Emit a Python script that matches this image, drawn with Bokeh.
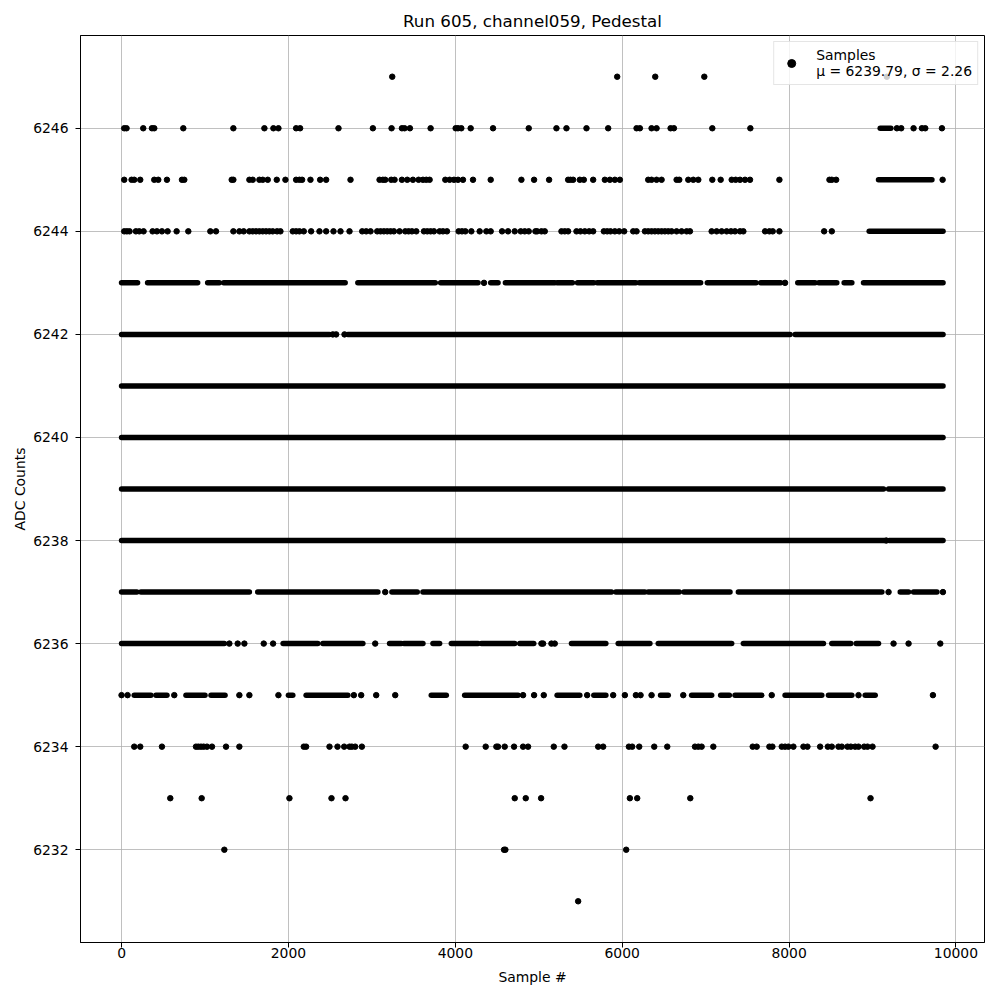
from bokeh.plotting import figure
from bokeh.models import Range1d, FixedTicker, Legend, LegendItem, ColumnDataSource, Spacer
from bokeh.layouts import column, row
from bokeh.embed import file_html
from bokeh.resources import INLINE

# ---- data (sample index per ADC level) ----
# isolated samples per ADC level
pts_6247 = [3244, 5940, 6396, 6984, 9172]
pts_6246 = [32, 60, 260, 364, 392, 740, 1340, 1712, 1820, 1880, 2092, 2140, 2600, 3012, 3236,
            3360, 3392, 3456, 3704, 4004, 4032, 4072, 4184, 4452, 4880, 5212, 5332, 5572, 5832,
            6172, 6212, 6352, 6412, 6580, 6620, 7080, 7536, 9292, 9344, 9492, 9592, 9632, 9832]
pts_6245 = [32, 120, 152, 224, 392, 440, 544, 724, 752, 1320, 1340, 1532, 1572, 1652, 1692, 1752,
            1860, 1964, 2092, 2132, 2164, 2264, 2380, 2452, 2744, 3092, 3132, 3160, 3232, 3272,
            3360, 3424, 3492, 3560, 3612, 3652, 3692, 3880, 3932, 3984, 4032, 4092, 4212, 4424,
            4792, 4944, 5124, 5352, 5380, 5412, 5492, 5540, 5652, 5792, 5852, 5912, 5972, 6312,
            6352, 6412, 6472, 6652, 6684, 6792, 6852, 6912, 7080, 7180, 7312, 7360, 7412, 7472,
            7532, 7884, 8484, 8512, 8564, 9840]
pts_6244 = [32, 64, 96, 172, 212, 264, 372, 424, 484, 552, 660, 800, 1064, 1132, 1340, 1412, 1464,
            1532, 1572, 1612, 1652, 1692, 1732, 1772, 1812, 1864, 1904, 2052, 2092, 2132, 2184,
            2272, 2372, 2452, 2540, 2624, 2732, 2884, 2932, 2984, 3064, 3104, 3144, 3184, 3224,
            3264, 3332, 3400, 3440, 3480, 3532, 3624, 3664, 3704, 3744, 3812, 3852, 3900, 4040,
            4080, 4120, 4192, 4292, 4372, 4424, 4560, 4632, 4712, 4784, 4832, 4880, 4960, 4980,
            5032, 5072, 5272, 5312, 5352, 5452, 5500, 5552, 5604, 5652, 5780, 5820, 5860, 5912,
            5964, 6024, 6132, 6172, 6272, 6312, 6352, 6392, 6432, 6472, 6512, 6552, 6592, 6652,
            6712, 6772, 6812, 7072, 7132, 7192, 7252, 7304, 7352, 7412, 7452, 7712, 7764, 7804,
            7884, 8420, 8512]
pts_6243 = [4344, 7952]
pts_6242 = [2532, 2572, 2672]
pts_6238 = [9164]
pts_6237 = [3160, 9192, 9844]
pts_6236 = [1292, 1392, 1472, 1704, 1816, 3040, 5032, 5052, 5152, 5192, 9252, 9432, 9812]
pts_6235 = [0, 72, 632, 1412, 1532, 1880, 2784, 2872, 3052, 3280, 4812, 4944, 5060, 5580, 5892,
            6032, 6164, 6220, 6352, 6732, 7792, 8832, 9724]
pts_6234 = [152, 224, 484, 892, 920, 952, 984, 1024, 1084, 1252, 1412, 2184, 2212, 2492, 2588,
            2668, 2732, 2760, 2800, 2880, 4124, 4364, 4492, 4512, 4592, 4704, 4812, 4872, 5180,
            5308, 5712, 5772, 6080, 6120, 6204, 6384, 6540, 6872, 6912, 6952, 7092, 7564, 7612,
            7764, 7800, 7912, 7952, 7992, 8052, 8172, 8220, 8372, 8464, 8512, 8592, 8632, 8700,
            8740, 8792, 8832, 8900, 8940, 9000, 9756]
pts_6233 = [584, 960, 2012, 2516, 2684, 4712, 4844, 5028, 6092, 6180, 6816, 8976]
pts_6232 = [1232, 4584, 4600, 6048]
pts_6231 = [5472]

# runs of consecutive-looking samples (start, end) per ADC level
runs_6246 = [(9092, 9220)]
runs_6245 = [(9072, 9712)]
runs_6244 = [(8960, 9845)]
runs_6243 = [(0, 192), (312, 912), (1032, 1172), (1224, 2680), (2832, 3760), (3824, 4272),
             (4424, 4512), (4600, 5192), (5220, 5404), (5464, 5660), (5700, 6164), (6204, 6940),
             (7020, 7604), (7660, 7900), (8104, 8312), (8356, 8572), (8660, 8752), (8892, 9845)]
runs_6242 = [(0, 2492), (2712, 8012), (8072, 9845)]
runs_6241 = [(0, 9845)]
runs_6240 = [(0, 9845)]
runs_6239 = [(0, 9132), (9192, 9845)]
runs_6238 = [(0, 9140), (9200, 9845)]
runs_6237 = [(0, 184), (232, 1532), (1632, 3072), (3240, 3544), (3612, 5872), (5924, 6272),
             (6312, 6684), (6740, 7292), (7392, 9112), (9332, 9432), (9492, 9772)]
runs_6236 = [(0, 1232), (1936, 2352), (2412, 2892), (3212, 3352), (3384, 3612), (3732, 3812),
             (3952, 4272), (4312, 4712), (4772, 4940), (5392, 5804), (5952, 6332), (6432, 7312),
             (7452, 8412), (8512, 8740), (8804, 9072)]
runs_6235 = [(152, 352), (412, 544), (772, 1000), (1072, 1240), (2000, 2052), (2212, 2712),
             (3712, 3892), (4112, 4752), (5220, 5492), (5660, 5804), (6460, 6552), (6832, 7072),
             (7180, 7284), (7352, 7672), (7952, 8392), (8472, 8752), (8912, 9032)]

x_ticks = [0, 2000, 4000, 6000, 8000, 10000]
y_ticks = [6232, 6234, 6236, 6238, 6240, 6242, 6244, 6246]
title_text = "Run 605, channel059, Pedestal"
legend_text = "Samples\nμ = 6239.79, σ = 2.26"

points = {6247: pts_6247, 6246: pts_6246, 6245: pts_6245, 6244: pts_6244, 6243: pts_6243,
          6242: pts_6242, 6238: pts_6238, 6237: pts_6237, 6236: pts_6236, 6235: pts_6235,
          6234: pts_6234, 6233: pts_6233, 6232: pts_6232, 6231: pts_6231}
runs = {6246: runs_6246, 6245: runs_6245, 6244: runs_6244, 6243: runs_6243, 6242: runs_6242,
        6241: runs_6241, 6240: runs_6240, 6239: runs_6239, 6238: runs_6238, 6237: runs_6237,
        6236: runs_6236, 6235: runs_6235}

px, py = [], []
for lvl, xs in points.items():
    px += xs
    py += [lvl] * len(xs)
sx0, sx1, sy = [], [], []
for lvl, rs in runs.items():
    for a, b in rs:
        sx0.append(a)
        sx1.append(b)
        sy.append(lvl)

FONT = "DejaVu Sans"
p = figure(frame_width=904, frame_height=907, output_backend="svg", toolbar_location=None,
           x_range=Range1d(-492, 10342), y_range=Range1d(6230.2, 6247.8),
           min_border_left=0, min_border_right=7, min_border_top=0, min_border_bottom=0)
p.title.text = title_text
p.title.align = "center"
p.title.text_font = FONT
p.title.text_font_size = "16.7px"
p.title.text_font_style = "normal"
p.title.text_color = "black"
p.title.standoff = 9

p.segment(x0="x0", y0="y", x1="x1", y1="y",
          source=ColumnDataSource(dict(x0=sx0, x1=sx1, y=sy)),
          line_color="black", line_width=5.5, line_cap="round")
sc = p.scatter(x="x", y="y", source=ColumnDataSource(dict(x=px, y=py)),
               marker="circle", size=5.5, fill_color="black", line_color="black")

for ax in (p.xaxis[0], p.yaxis[0]):
    ax.axis_line_color = "black"
    ax.major_tick_line_color = "black"
    ax.major_tick_out = 5
    ax.major_tick_in = 0
    ax.minor_tick_line_color = None
    ax.major_label_text_font = FONT
    ax.major_label_text_font_size = "13.9px"
    ax.major_label_text_color = "black"
    ax.axis_label_text_font = FONT
    ax.axis_label_text_font_size = "13.9px"
    ax.axis_label_text_font_style = "normal"
    ax.axis_label_text_color = "black"
p.xaxis.major_label_standoff = 0
p.yaxis.major_label_standoff = 7
p.xaxis.ticker = FixedTicker(ticks=x_ticks)
p.yaxis.ticker = FixedTicker(ticks=y_ticks)
p.xaxis.axis_label = "Sample #"
p.yaxis.axis_label = "ADC Counts"
p.xaxis.axis_label_standoff = 8
p.yaxis.axis_label_standoff = 2

p.xgrid.ticker = FixedTicker(ticks=x_ticks)
p.ygrid.ticker = FixedTicker(ticks=y_ticks)
p.grid.grid_line_color = "#b0b0b0"
p.grid.grid_line_width = 0.8
p.outline_line_color = "black"
p.outline_line_width = 1

legend = Legend(items=[LegendItem(label=legend_text, renderers=[sc])], location="top_right",
                label_text_font=FONT, label_text_font_size="13.9px", label_text_color="black",
                background_fill_alpha=0.8, border_line_color="#cccccc",
                margin=6, padding=5, spacing=0, glyph_width=24, label_standoff=13)
p.add_layout(legend)

layout = column(Spacer(height=4), row(Spacer(width=9), p))
open("out.html", "w").write(file_html(layout, INLINE))
